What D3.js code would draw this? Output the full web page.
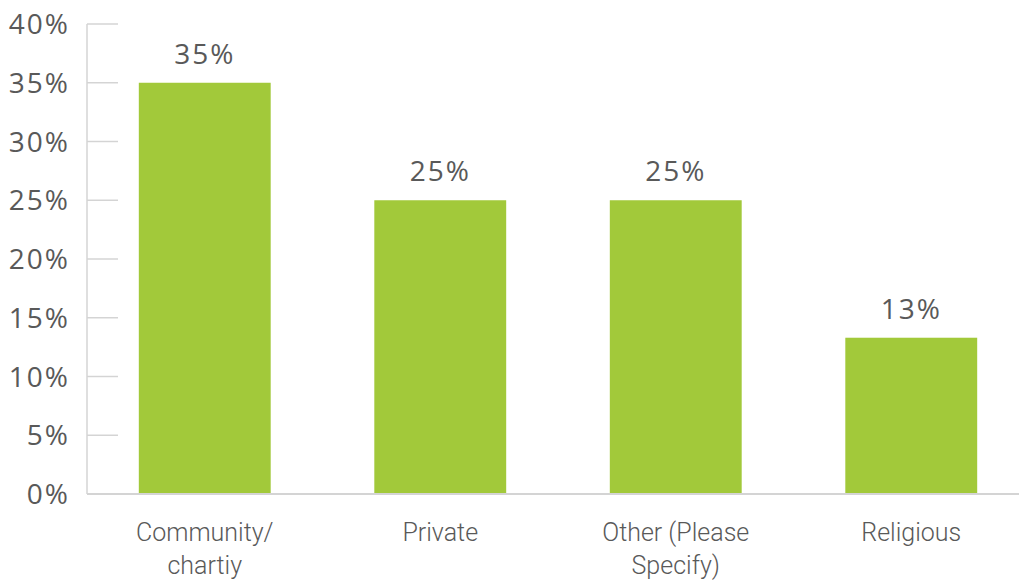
<!DOCTYPE html>
<html>
<head>
<meta charset="utf-8">
<script src="https://cdn.jsdelivr.net/npm/d3@7"></script>
<style>
  body { margin: 0; background: #fff; }
  svg { display: block; }
</style>
</head>
<body>
<script>
var w = 1019;
var h = 583;

var categories = [["Community/", "chartiy"], ["Private"], ["Other (Please", "Specify)"], ["Religious"]];
var values = [35, 25, 25, 13.3];
var labels = ["35%", "25%", "25%", "13%"];
var yTicks = [0, 5, 10, 15, 20, 25, 30, 35, 40];

var x0 = 87, x1 = 1029, yTop = 24, yBase = 494;

var xScale = d3.scaleBand()
  .domain(d3.range(values.length))
  .range([x0, x1])
  .paddingInner(0.44)
  .paddingOuter(0.22);

var yScale = d3.scaleLinear()
  .domain([0, 40])
  .range([yBase, yTop]);

var svg = d3.select("body")
  .append("svg")
  .attr("width", w)
  .attr("height", h);

// tick marks
svg.selectAll("line.tick")
  .data(yTicks)
  .enter()
  .append("line")
  .attr("class", "tick")
  .attr("x1", x0)
  .attr("x2", x0 + 31)
  .attr("y1", function(d) { return yScale(d); })
  .attr("y2", function(d) { return yScale(d); })
  .attr("stroke", "#d4d4d4")
  .attr("stroke-width", 1.5);

// tick labels
svg.selectAll("text.ylab")
  .data(yTicks)
  .enter()
  .append("text")
  .attr("class", "ylab")
  .attr("x", 70)
  .attr("y", function(d) { return yScale(d); })
  .attr("dy", "0.36em")
  .attr("text-anchor", "end")
  .attr("font-family", "'Open Sans', sans-serif")
  .attr("font-size", 28)
  .attr("letter-spacing", 2)
  .attr("fill", "#595959")
  .text(function(d) { return d + "%"; });

// bars
svg.selectAll("rect")
  .data(values)
  .enter()
  .append("rect")
  .attr("x", function(d, i) { return xScale(i); })
  .attr("y", function(d) { return yScale(d); })
  .attr("width", xScale.bandwidth())
  .attr("height", function(d) { return yBase - yScale(d); })
  .attr("fill", "#a2c93a");

// value labels
svg.selectAll("text.val")
  .data(values)
  .enter()
  .append("text")
  .attr("class", "val")
  .attr("x", function(d, i) { return xScale(i) + xScale.bandwidth() / 2; })
  .attr("y", function(d) { return yScale(d) - 19; })
  .attr("text-anchor", "middle")
  .attr("font-family", "'Open Sans', sans-serif")
  .attr("font-size", 28)
  .attr("letter-spacing", 2)
  .attr("fill", "#595959")
  .text(function(d, i) { return labels[i]; });

// axes lines
svg.append("line")
  .attr("x1", x0).attr("x2", x0)
  .attr("y1", yTop).attr("y2", yBase)
  .attr("stroke", "#d4d4d4").attr("stroke-width", 1.5);
svg.append("line")
  .attr("x1", x0).attr("x2", w)
  .attr("y1", yBase).attr("y2", yBase)
  .attr("stroke", "#d4d4d4").attr("stroke-width", 2);

// category labels
var cat = svg.selectAll("text.cat")
  .data(categories)
  .enter()
  .append("text")
  .attr("class", "cat")
  .attr("x", function(d, i) { return xScale(i) + xScale.bandwidth() / 2; })
  .attr("y", 541)
  .attr("text-anchor", "middle")
  .attr("font-family", "Roboto, sans-serif")
  .attr("font-weight", 300)
  .attr("font-size", 25)
  .attr("fill", "#595959");

cat.selectAll("tspan")
  .data(function(d) { return d; })
  .enter()
  .append("tspan")
  .attr("x", function() { return d3.select(this.parentNode).attr("x"); })
  .attr("dy", function(d, i) { return i === 0 ? 0 : 33; })
  .text(function(d) { return d; });
</script>
</body>
</html>
